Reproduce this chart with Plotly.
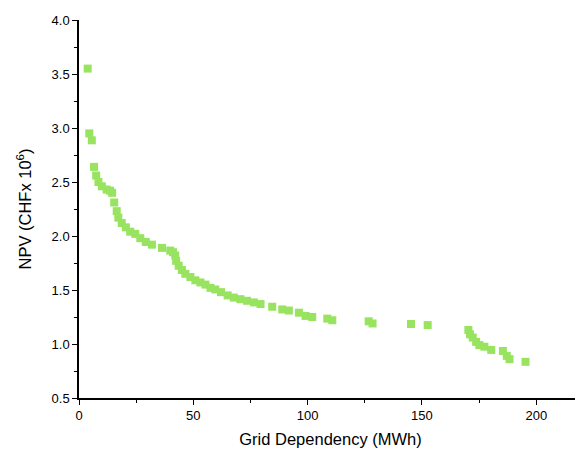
import plotly.graph_objects as go

grid_dependency = [3.8, 4.5, 5.6, 6.6, 7.5, 8.5, 10.0, 12.1, 13.6, 14.5, 15.4, 16.5, 17.2, 18.7,
                   20.5, 22.4, 24.6, 26.8, 29.2, 31.9, 36.3, 39.9, 41.1, 42.1, 42.5, 43.6, 45.0,
                   46.5, 48.7, 50.9, 53.1, 55.3, 57.5, 59.6, 62.1, 65.0, 67.7, 70.6, 73.5, 76.5,
                   79.4, 84.5, 88.9, 91.8, 96.2, 99.1, 102.0, 108.6, 110.8, 126.7, 128.4, 145.2,
                   152.5, 170.3, 171.0, 172.2, 173.7, 175.1, 177.3, 180.3, 185.4, 187.1, 188.3,
                   195.3]
npv = [3.55, 2.95, 2.886, 2.64, 2.56, 2.50, 2.46, 2.43, 2.42, 2.40, 2.31, 2.23, 2.17, 2.12,
       2.08, 2.04, 2.02, 1.98, 1.945, 1.92, 1.89, 1.865, 1.85, 1.82, 1.77, 1.725, 1.685,
       1.65, 1.62, 1.59, 1.57, 1.55, 1.52, 1.505, 1.48, 1.45, 1.43, 1.415, 1.40, 1.385,
       1.37, 1.345, 1.32, 1.31, 1.29, 1.26, 1.25, 1.235, 1.22, 1.21, 1.19, 1.185,
       1.175, 1.13, 1.09, 1.06, 1.02, 0.99, 0.975, 0.945, 0.935, 0.89, 0.86,
       0.835]

x_ticks = [0, 50, 100, 150, 200]
y_ticks = [0.5, 1.0, 1.5, 2.0, 2.5, 3.0, 3.5, 4.0]

fig = go.Figure()
fig.add_trace(go.Scatter(
    x=grid_dependency, y=npv, mode="markers",
    marker=dict(symbol="square", size=8, color="#98E35F", line=dict(width=0)),
    showlegend=False,
))

font = "Liberation Sans, Arial, sans-serif"
# page body has an 8px margin, so the figure is 8px smaller than the window
fig.update_layout(
    width=575, height=444,
    margin=dict(l=71, r=1, t=12, b=54),
    paper_bgcolor="white", plot_bgcolor="white",
    font=dict(family=font, size=13, color="black"),
    xaxis=dict(
        range=[0, 220], tickvals=x_ticks, ticktext=[str(v) for v in x_ticks],
        showgrid=False, zeroline=False, showline=True, linecolor="black", linewidth=1.5,
        ticks="outside", ticklen=5, tickwidth=1.3, tickcolor="black",
        minor=dict(tickvals=[25, 75, 125, 175], ticks="outside", ticklen=3, tickwidth=1.3, tickcolor="black"),
        title=dict(text="Grid Dependency (MWh)", font=dict(size=16.5), standoff=11),
        automargin=False,
    ),
    yaxis=dict(
        range=[0.5, 4.0], tickvals=y_ticks, ticktext=[f"{v:.1f}" for v in y_ticks],
        showgrid=False, zeroline=False, showline=True, linecolor="black", linewidth=1.5,
        ticks="outside", ticklen=5, tickwidth=1.3, tickcolor="black",
        minor=dict(tickvals=[0.75, 1.25, 1.75, 2.25, 2.75, 3.25, 3.75], ticks="outside", ticklen=3, tickwidth=1.3, tickcolor="black"),
        title=dict(text="NPV (CHFx 10<sup>6</sup>)", font=dict(size=16.5), standoff=16),
        automargin=False,
    ),
)

fig.write_html("out.html")
